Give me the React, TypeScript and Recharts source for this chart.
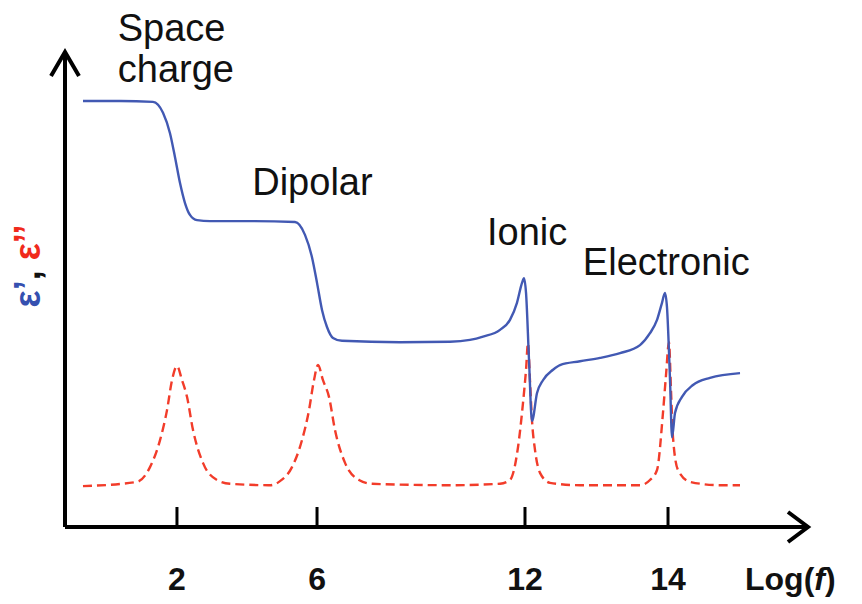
import { LineChart, Line, XAxis, YAxis, ReferenceDot, ReferenceLine } from "recharts";

// x is a display position along the (non-linear) Log(f) axis, 0..100;
// y is relative permittivity / loss, 0..100 (arbitrary units).
const blueX = [
  2.42, 7.4, 11.84, 13.19, 14.13, 14.8, 15.48, 16.15, 16.82, 17.77, 19.52, 24.9, 30.96, 32.3, 33.24,
  33.92, 34.59, 35.26, 36.07, 37.28, 45.09, 51.8, 54.5, 56.26, 58.55, 59.89, 60.83, 61.51, 61.78, 62.05,
  62.45, 62.85, 63.53, 64.33, 65.68, 66.62, 69.31, 72.01, 74.7, 77.39, 78.73, 79.68, 80.35, 80.75,
  81.02, 81.43, 81.7, 82.1, 83.04, 84.52, 86.81, 90.85,
];
const blueY = [
  89.7, 89.7, 89.5, 87.2, 82.9, 77.9, 72.4, 68.2, 65.7, 64.6, 64.4, 64.4, 64.2, 61.5, 56.8,
  51.4, 45.7, 42.1, 39.8, 39.2, 38.9, 39.0, 39.4, 40.1, 41.5, 43.6, 47.2, 51.4, 52.4, 49.3,
  35.2, 22.3, 28.2, 30.9, 33.1, 34.1, 34.9, 35.6, 36.6, 38.3, 40.8, 43.6, 47.2, 49.3,
  46.3, 30.9, 18.9, 24.0, 27.4, 29.9, 31.4, 32.4,
];

const redX = [
  2.42, 9.69, 11.44, 12.79, 13.73, 14.4, 15.07, 15.75, 16.42, 17.23, 18.57, 20.46, 22.21, 27.59,
  28.8, 30.55, 31.9, 32.84, 33.51, 34.05, 34.72, 35.53, 36.34, 37.69, 39.57, 41.32, 51.82, 58.55,
  59.89, 60.97, 61.64, 62.05, 62.31, 62.58, 62.85, 63.26, 63.93, 65.28, 69.31, 77.39, 78.73, 79.68,
  80.48, 80.89, 81.29, 81.56, 81.83, 82.5, 84.12, 88.16, 90.85,
];
const redY = [
  8.6, 9.5, 12.6, 18.3, 24.6, 30.9, 33.9, 30.9, 27.4, 20.4, 13.5, 9.9, 9.1, 8.8,
  9.5, 12.6, 18.3, 24.6, 30.9, 34.1, 30.9, 27.4, 20.4, 13.5, 9.9, 9.1, 8.8, 9.1,
  9.9, 16.8, 26.1, 33.1, 38.7, 30.9, 22.5, 16.2, 11.4, 9.3, 8.8, 8.8, 9.9, 12.0,
  24.0, 32.0, 38.9, 28.8, 18.9, 12.0, 9.5, 8.8, 8.8,
];

const tickPos = [15.07, 33.92, 61.91, 81.16];
const tickLabels = ["2", "6", "12", "14"];

const blueData = blueX.map((x, i) => ({ x, y: blueY[i] }));
const redData = redX.map((x, i) => ({ x, y: redY[i] }));

const FONT = "'Liberation Sans', Arial, Helvetica, sans-serif";

const notes = [
  { x: 7.1, y: 102.3, lines: ["Space", "charge"] },
  { x: 25.2, y: 69.9, lines: ["Dipolar"] },
  { x: 56.8, y: 59.4, lines: ["Ionic"] },
  { x: 69.7, y: 53.1, lines: ["Electronic"] },
];

function AxisTick(props: any) {
  const { x, y, payload } = props;
  const i = tickPos.indexOf(payload.value);
  return (
    <g>
      <line x1={x} x2={x} y1={y - 20} y2={y} stroke="#000" strokeWidth={3} />
      <text x={x} y={y + 63} textAnchor="middle" fontFamily={FONT} fontWeight="bold" fontSize={32} fill="#111">
        {tickLabels[i]}
      </text>
    </g>
  );
}

export default function App() {
  return (
    <div style={{ position: "absolute", left: 0, top: 0, width: 862, height: 604, background: "#fff" }}>
      <LineChart width={862} height={604} margin={{ top: 52, right: 54, left: 65, bottom: 37 }}>
        <XAxis
          type="number"
          dataKey="x"
          domain={[0, 100]}
          ticks={tickPos}
          allowDataOverflow
          height={40}
          tickSize={0}
          tickMargin={0}
          tick={<AxisTick />}
          axisLine={{ stroke: "#000", strokeWidth: 4 }}
          tickLine={false}
        />
        <YAxis type="number" dataKey="y" domain={[0, 100]} allowDataOverflow hide />
        <ReferenceLine x={0} stroke="#000" strokeWidth={4} ifOverflow="visible" />
        <Line
          data={redData}
          dataKey="y"
          type="monotone"
          stroke="#f23c2a"
          strokeWidth={2.4}
          strokeDasharray="9 5"
          dot={false}
          isAnimationActive={false}
        />
        <Line
          data={blueData}
          dataKey="y"
          type="monotone"
          stroke="#4259b3"
          strokeWidth={2.4}
          dot={false}
          isAnimationActive={false}
        />
        <ReferenceDot
          x={0}
          y={100}
          ifOverflow="visible"
          shape={(p: any) => (
            <path
              d={`M${p.cx - 14},${p.cy + 24} L${p.cx},${p.cy} L${p.cx + 14},${p.cy + 24}`}
              stroke="#000"
              strokeWidth={4}
              fill="none"
            />
          )}
        />
        <ReferenceDot
          x={100}
          y={0}
          ifOverflow="visible"
          shape={(p: any) => (
            <path
              d={`M${p.cx - 20},${p.cy - 15} L${p.cx},${p.cy} L${p.cx - 20},${p.cy + 15}`}
              stroke="#000"
              strokeWidth={4}
              fill="none"
            />
          )}
        />
        {notes.map((n, k) => (
          <ReferenceDot
            key={k}
            x={n.x}
            y={n.y}
            ifOverflow="visible"
            shape={(p: any) => (
              <text x={p.cx} y={p.cy} fontFamily={FONT} fontSize={38} fill="#111">
                {n.lines.map((l, j) => (
                  <tspan key={j} x={p.cx} dy={j === 0 ? 0 : 41}>
                    {l}
                  </tspan>
                ))}
              </text>
            )}
          />
        ))}
      </LineChart>
      <svg width={862} height={604} style={{ position: "absolute", left: 0, top: 0, pointerEvents: "none" }}>
        <text
          x={40}
          y={266}
          transform="rotate(-90, 40, 266)"
          textAnchor="middle"
          fontFamily={FONT}
          fontWeight="bold"
          fontSize={36}
        >
          <tspan fill="#3550b0">ε’</tspan>
          <tspan fill="#111">, </tspan>
          <tspan fill="#f02a1c">ε’’</tspan>
        </text>
        <text x={745} y={590} fontFamily={FONT} fontWeight="bold" fontSize={32} fill="#111">
          Log(<tspan fontStyle="italic">f</tspan>)
        </text>
      </svg>
    </div>
  );
}
